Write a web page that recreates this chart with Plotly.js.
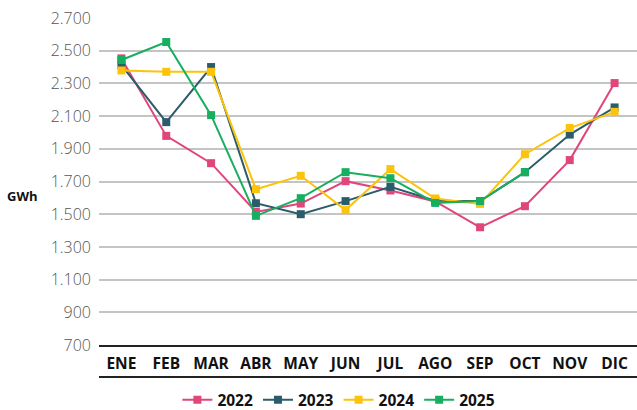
<!DOCTYPE html>
<html>
<head>
<meta charset="utf-8">
<script src="https://cdn.plot.ly/plotly-3.0.1.min.js"></script>
<style>html,body{margin:0;padding:0;background:#fff;}#chart{width:637px;height:410px;}</style>
</head>
<body>
<div id="chart"></div>
<script>
const months = ['ENE','FEB','MAR','ABR','MAY','JUN','JUL','AGO','SEP','OCT','NOV','DIC'];
const y2022 = [2453, 1979, 1812, 1514, 1565, 1702, 1645, 1578, 1420, 1549, 1831, 2302];
const y2023 = [2412, 2063, 2400, 1567, 1500, 1580, 1667, 1583, 1580, 1757, 1987, 2153];
const y2024 = [2379, 2371, 2371, 1653, 1735, 1525, 1776, 1596, 1563, 1867, 2027, 2126];
const y2025 = [2443, 2553, 2106, 1490, 1598, 1757, 1720, 1569, 1580, 1757];
const seriesNames = ['2022','2023','2024','2025'];
const seriesData = [y2022, y2023, y2024, y2025];
const colors = ['#e0457b', '#2b5c6b', '#fcc30b', '#17ae60'];

const traces = seriesData.map((vals, i) => ({
  type: 'scatter',
  mode: 'lines+markers',
  name: seriesNames[i],
  x: months.slice(0, vals.length),
  y: vals,
  line: {color: colors[i], width: 2},
  marker: {color: colors[i], symbol: 'square', size: 8},
  hoverinfo: 'x+y+name'
}));

const layout = {
  width: 637, height: 410,
  margin: {l: 99, r: 0, t: 18, b: 65},
  paper_bgcolor: '#fff', plot_bgcolor: '#fff',
  separators: ',.',
  font: {family: 'Open Sans, sans-serif', color: '#111'},
  showlegend: true,
  legend: {
    orientation: 'h', xref: 'container', x: 0.532, xanchor: 'center',
    yref: 'container', y: 0.024, yanchor: 'middle',
    font: {family: 'Open Sans, sans-serif', size: 15.5, color: '#111', weight: 'bold'},
    itemwidth: 30, tracegroupgap: 0
  },
  xaxis: {
    type: 'category', categoryorder: 'array', categoryarray: months,
    range: [-0.5, 11.5],
    showgrid: false, zeroline: false,
    showline: true, linecolor: '#222', linewidth: 2,
    ticks: '', ticklabelstandoff: 3,
    tickfont: {family: 'Open Sans, sans-serif', size: 15.5, color: '#111', weight: 'bold'}
  },
  yaxis: {
    range: [700, 2700], dtick: 200, tick0: 700,
    tickformat: ',',
    showgrid: true, gridcolor: '#c4c4c4', gridwidth: 2,
    zeroline: false, showline: false, ticks: '',
    ticklabelstandoff: 7,
    tickfont: {family: 'Open Sans, sans-serif', size: 16, color: '#555', weight: 300}
  },
  shapes: [{
    type: 'line', xref: 'paper', yref: 'paper', x0: 0, x1: 1, y0: -0.098, y1: -0.098,
    line: {color: '#222', width: 2}
  }],
  annotations: [{
    text: '<b>GWh</b>', xref: 'paper', yref: 'paper', x: -0.142, y: 0.455,
    xanchor: 'center', yanchor: 'middle', showarrow: false,
    font: {family: 'Open Sans, sans-serif', size: 13, color: '#111'}
  }]
};

Plotly.newPlot('chart', traces, layout, {displayModeBar: false, staticPlot: true});
</script>
</body>
</html>
